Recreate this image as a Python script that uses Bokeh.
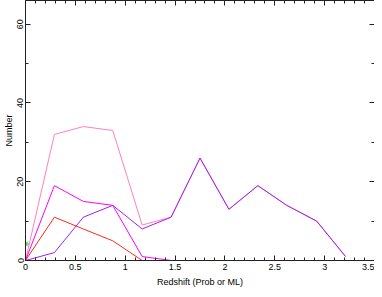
from bokeh.plotting import figure
from bokeh.models import LinearAxis, FixedTicker, Range1d
from bokeh.embed import file_html
from bokeh.resources import INLINE

# data
redshift = [0, 0.29, 0.58, 0.875, 1.17, 1.46, 1.75, 2.04, 2.33, 2.62, 2.92, 3.21]
total = [0, 32, 34, 33, 9, 11, 26, 13, 19, 14, 10, 1]
purple_s = [0, 2, 11, 14, 8, 11, 26, 13, 19, 14, 10, 1]
magenta_s = [0, 19, 15, 14, 1, 0, 0, 0, 0, 0, 0, 0]
red_s = [0, 11, 8, 5, 0, 0, 0, 0, 0, 0, 0, 0]
star_x = [0]
star_y = [4.2]

x_ticks = [0, 0.5, 1, 1.5, 2, 2.5, 3, 3.5]
x_labels = ["0", "0.5", "1", "1.5", "2", "2.5", "3", "3.5"]
x_minor = [i / 10 for i in range(0, 36)]
y_ticks = [0, 20, 40, 60]
y_minor = [0, 10, 20, 30, 40, 50, 60]

FONT = "Liberation Sans"
AX = "#222222"

p = figure(width=374, height=289, output_backend="svg", toolbar_location=None,
           x_range=Range1d(0, 3.5), y_range=Range1d(0, 66),
           min_border_left=0, min_border_right=0, min_border_top=0, min_border_bottom=0,
           outline_line_color=None)
p.grid.visible = False
p.background_fill_color = "white"
p.border_fill_color = "white"

def style(ax, labels=True):
    ax.axis_line_color = AX
    ax.axis_line_width = 1
    ax.major_tick_in = 5
    ax.major_tick_out = 0
    ax.minor_tick_in = 3
    ax.minor_tick_out = 0
    ax.major_tick_line_color = AX
    ax.minor_tick_line_color = AX
    ax.major_label_text_font = FONT
    ax.major_label_text_font_size = "9px" if labels else "0px"
    ax.major_label_text_color = "black" if labels else None
    ax.major_label_standoff = 3 if labels else 0
    ax.axis_label_text_font = FONT
    ax.axis_label_text_font_size = "9px"
    ax.axis_label_text_font_style = "normal"
    ax.axis_label_text_color = "black"
    ax.axis_label_standoff = 4

xt = FixedTicker(ticks=x_ticks, minor_ticks=x_minor)
yt = FixedTicker(ticks=y_ticks, minor_ticks=y_minor)

xa = p.xaxis[0]
xa.ticker = xt
xa.major_label_overrides = {t: l for t, l in zip(x_ticks, x_labels)}
xa.axis_label = "Redshift (Prob or ML)"
style(xa)
xa.major_label_standoff = 3
xa.axis_label_standoff = 4

ya = p.yaxis[0]
ya.ticker = yt
ya.axis_label = "Number"
ya.major_label_orientation = "vertical"
style(ya)
ya.major_label_standoff = 2
ya.axis_label_standoff = 1

top = LinearAxis(ticker=FixedTicker(ticks=x_ticks, minor_ticks=x_minor))
style(top, labels=False)
top.major_label_overrides = {t: "" for t in x_ticks}
p.add_layout(top, "above")
right = LinearAxis(ticker=FixedTicker(ticks=y_ticks, minor_ticks=y_minor))
style(right, labels=False)
right.major_label_overrides = {t: "" for t in y_ticks}
p.add_layout(right, "right")

p.line(redshift, total, line_color="#ff80c0", line_width=1)
p.line(redshift, purple_s, line_color="#a020f0", line_width=1)
p.line(redshift, magenta_s, line_color="#ff00ff", line_width=1)
p.line(redshift, red_s, line_color="#ff2a1a", line_width=1)
p.scatter(star_x, star_y, marker="asterisk", size=7, line_color="#00cc00", line_width=1)

open("out.html", "w").write(file_html(p, INLINE))
